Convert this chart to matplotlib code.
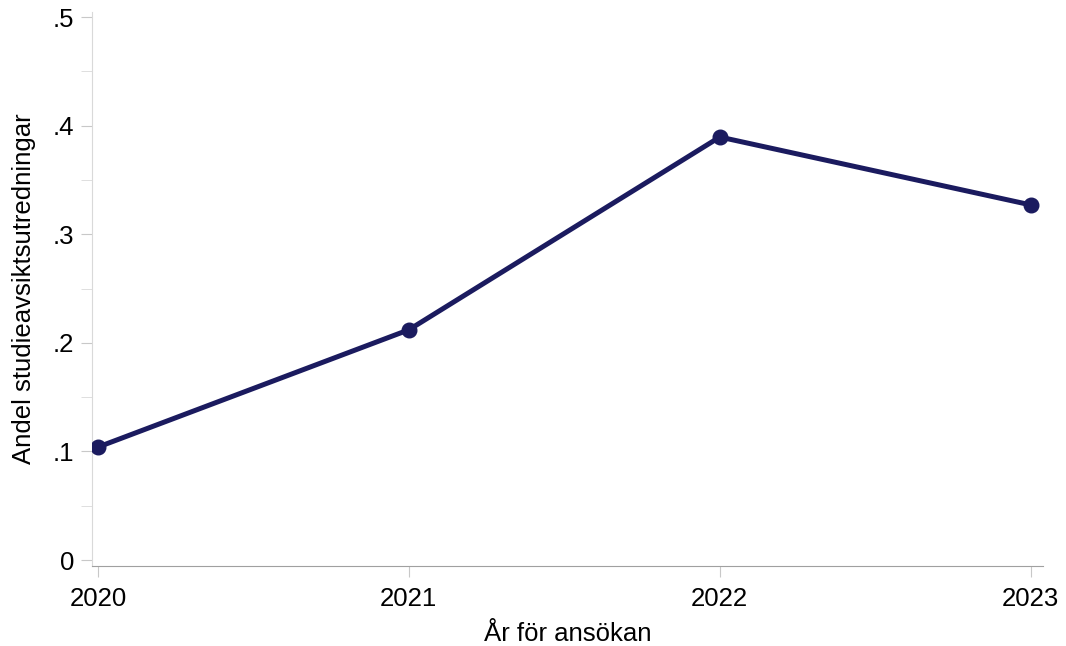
import matplotlib.pyplot as plt
from matplotlib.ticker import MultipleLocator, FuncFormatter

plt.rcParams['font.family'] = ['Liberation Sans', 'DejaVu Sans']

# Data
years = [2020, 2021, 2022, 2023]
andel = [0.104, 0.212, 0.3895, 0.327]

fig = plt.figure(figsize=(10.66, 6.46), dpi=100)
ax = fig.add_axes([0.0863, 0.1238, 0.8920, 0.8576])

ax.plot(years, andel, color='#1b1b5f', linewidth=3.6, marker='o', markersize=10.5, zorder=3)

ax.set_xlim(2019.981, 2023.039)
ax.set_ylim(-0.0055, 0.5046)
ax.set_xticks(years)
ax.yaxis.set_major_locator(MultipleLocator(0.1))
ax.yaxis.set_minor_locator(MultipleLocator(0.05))

def fmt(v, pos):
    if abs(v) < 1e-9:
        return '0'
    return ('%.1f' % v).lstrip('0')

ax.yaxis.set_major_formatter(FuncFormatter(fmt))

for s in ['top', 'right']:
    ax.spines[s].set_visible(False)
ax.spines['left'].set_color('#d9d9d9')
ax.spines['bottom'].set_color('#a0a0a0')

ax.tick_params(axis='y', which='major', length=8, color='#c8c8c8', labelsize=18.5, pad=5)
ax.tick_params(axis='y', which='minor', length=8, color='#d9d9d9')
ax.tick_params(axis='x', which='major', length=8, color='#c8c8c8', labelsize=18.5, pad=7)

ax.set_xlabel('År för ansökan', fontsize=18.5, labelpad=8)
ax.set_ylabel('Andel studieavsiktsutredningar', fontsize=18.5, labelpad=12)

fig.savefig('out.png', dpi=100)
